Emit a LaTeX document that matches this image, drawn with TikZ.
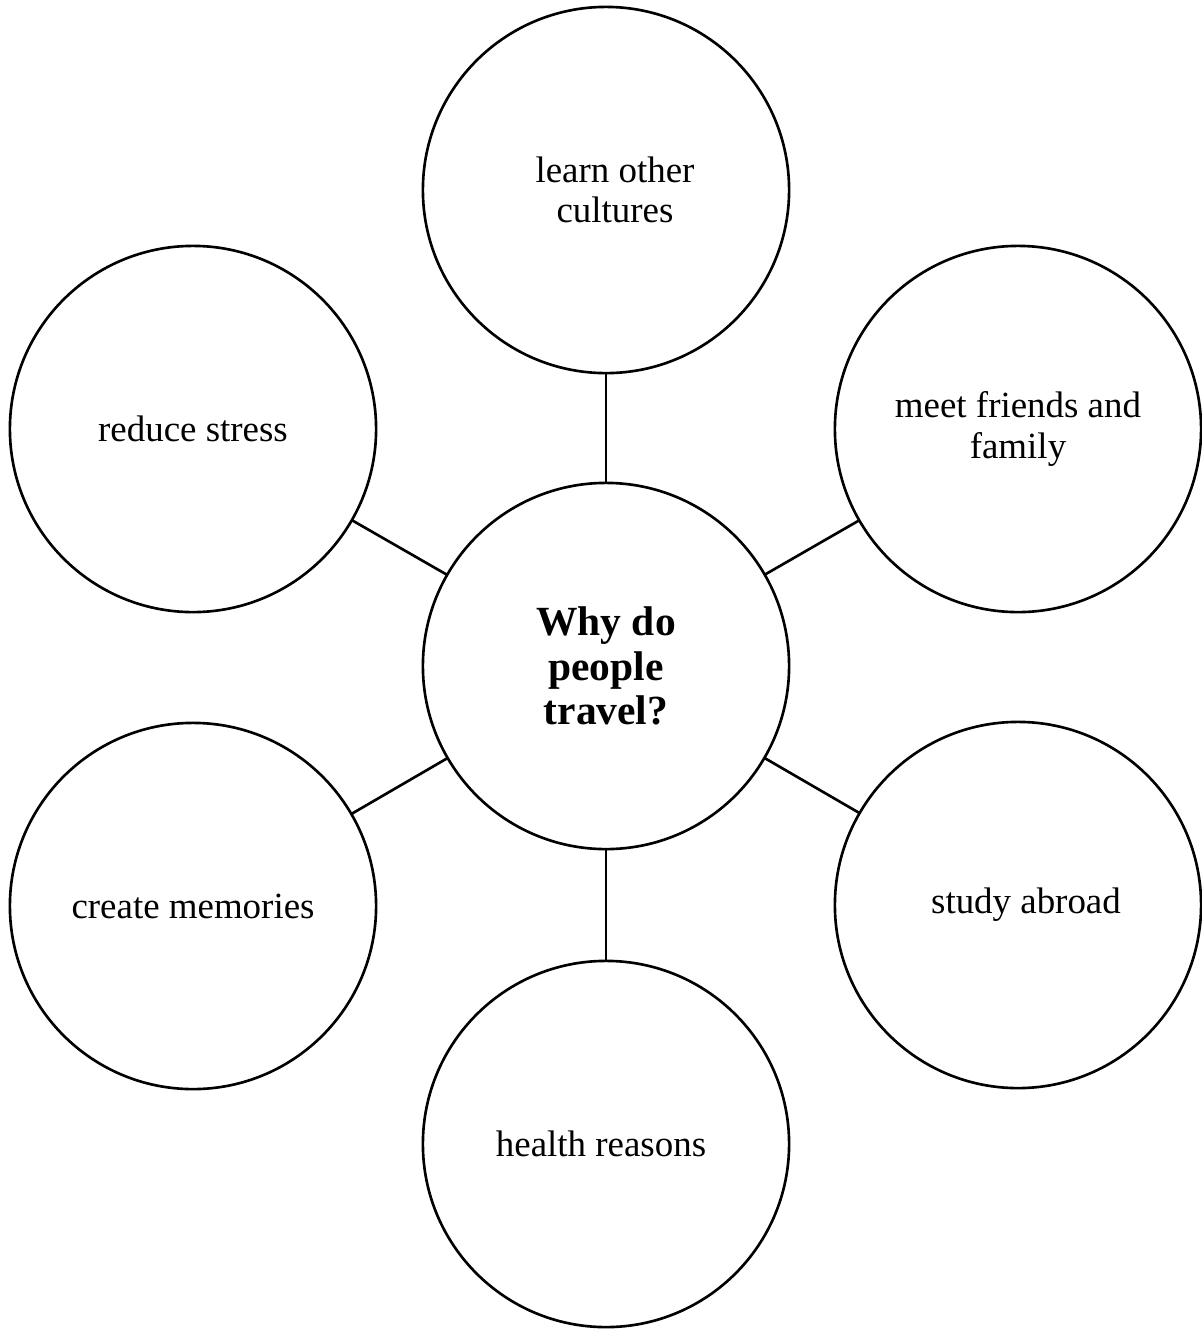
\documentclass[tikz,border=0pt]{standalone}
\usepackage{fontspec}
\setmainfont{Liberation Serif}
\usetikzlibrary{positioning}
\tikzset{main node/.style={circle,draw,line width=0.75pt,minimum size=3.66cm,inner sep=0pt,outer sep=0pt,align=center,font=\fontsize{11.8}{12.7}\selectfont\bfseries},
         reason node/.style={circle,draw,line width=0.75pt,minimum size=3.66cm,inner sep=0pt,outer sep=0pt,align=center,font=\fontsize{10.5}{11.4}\selectfont},
         spoke/.style={line width=0.75pt},
}
\begin{document}
\begin{tikzpicture}[x=0.01cm,y=-0.01cm]
\useasboundingbox (0,0) rectangle (1202,1329);
% \draw[help lines,step=100] (0,0) grid (1202,1329);
\node[main node] (why) at (606,666) {Why do\\people\\travel?};
\node[reason node] (cultures) at (606,190) {\hspace*{0.18cm}learn other\\\hspace*{0.18cm}cultures};
\node[reason node] (friends) at (1018,429) {meet friends and\\family};
\node[reason node] (study) at (1018,905) {\hspace*{0.16cm}study abroad};
\node[reason node] (health) at (606,1144) {health reasons\hspace*{0.1cm}};
\node[reason node] (memories) at (193,906) {create memories};
\node[reason node] (stress) at (193,429) {reduce stress};
\draw[spoke] (why) -- (cultures);
\draw[spoke] (why) -- (friends);
\draw[spoke] (why) -- (study);
\draw[spoke] (why) -- (health);
\draw[spoke] (why) -- (memories);
\draw[spoke] (why) -- (stress);
\end{tikzpicture}
\end{document}
